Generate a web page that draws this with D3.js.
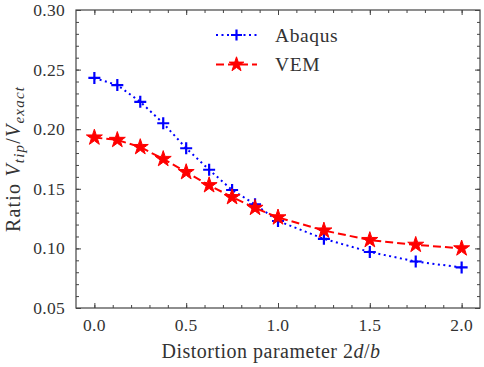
<!DOCTYPE html>
<html>
<head>
<meta charset="utf-8">
<script src="https://cdn.jsdelivr.net/npm/d3@7"></script>
<style>
  body { margin: 0; background: #fff; }
  text { font-family: "Liberation Serif", "DejaVu Serif", serif; fill: #333; }
</style>
</head>
<body>
<div id="chart"></div>
<script>
// Distortion parameter 2d/b
const distortion = [0, 0.125, 0.25, 0.375, 0.5, 0.625, 0.75, 0.875, 1.0, 1.25, 1.5, 1.75, 2.0];
// Ratio V_tip / V_exact
const abaqus = [0.243, 0.237, 0.223, 0.205, 0.184, 0.166, 0.149, 0.137, 0.123, 0.108, 0.097, 0.089, 0.084];
const vem = [0.193, 0.191, 0.185, 0.175, 0.164, 0.153, 0.143, 0.134, 0.126, 0.115, 0.107, 0.103, 0.100];
const xTicks = [0.0, 0.5, 1.0, 1.5, 2.0];
const yTicks = [0.05, 0.10, 0.15, 0.20, 0.25, 0.30];

const width = 484, height = 367;
const margin = { left: 76, right: 4, top: 10, bottom: 59 };
const axisColor = "#444";

const svg = d3.select("#chart").append("svg")
    .attr("width", width)
    .attr("height", height);

const x = d3.scaleLinear().domain([-0.1, 2.1]).range([margin.left, width - margin.right]);
const y = d3.scaleLinear().domain([0.05, 0.30]).range([height - margin.bottom, margin.top]);

// inward ticks on all four sides, like matplotlib "science" style
function tickAxes(axisGen, transform, major, minor) {
    const g = svg.append("g").attr("transform", transform);
    g.call(axisGen.tickValues(minor).tickSize(3).tickFormat(""));
    g.selectAll(".domain").remove();
    const g2 = svg.append("g").attr("transform", transform);
    g2.call(axisGen.tickValues(major).tickSize(5));
    g2.selectAll(".domain").remove();
    g2.selectAll("text").remove();
    svg.selectAll("line").attr("stroke", axisColor);
}

const xMinor = d3.range(0, 21).map(i => i / 10);
const yMinor = d3.range(5, 31).map(i => i / 100);

tickAxes(d3.axisTop(x), `translate(0,${y.range()[0]})`, xTicks, xMinor);
tickAxes(d3.axisBottom(x), `translate(0,${y.range()[1]})`, xTicks, xMinor);
tickAxes(d3.axisRight(y), `translate(${x.range()[0]},0)`, yTicks, yMinor);
tickAxes(d3.axisLeft(y), `translate(${x.range()[1]},0)`, yTicks, yMinor);

// tick labels
svg.append("g").selectAll("text").data(xTicks).join("text")
    .attr("x", d => x(d))
    .attr("y", y.range()[0] + 23)
    .attr("text-anchor", "middle")
    .style("font-size", "17.5px")
    .style("letter-spacing", "0.3px")
    .text(d => d.toFixed(1));

svg.append("g").selectAll("text").data(yTicks).join("text")
    .attr("x", x.range()[0] - 11)
    .attr("y", d => y(d) + 6)
    .attr("text-anchor", "end")
    .style("font-size", "17.5px")
    .style("letter-spacing", "0.3px")
    .text(d => d.toFixed(2));

// frame
svg.append("rect")
    .attr("x", x.range()[0])
    .attr("y", y.range()[1])
    .attr("width", x.range()[1] - x.range()[0])
    .attr("height", y.range()[0] - y.range()[1])
    .attr("fill", "none")
    .attr("stroke", axisColor)
    .attr("stroke-width", 1.2);

// axis titles
const xt = svg.append("text")
    .attr("x", (x.range()[0] + x.range()[1]) / 2 - 7)
    .attr("y", 358)
    .attr("text-anchor", "middle")
    .style("font-size", "20px")
    .style("letter-spacing", "0.5px");
xt.append("tspan").text("Distortion parameter 2");
xt.append("tspan").style("font-style", "italic").text("d");
xt.append("tspan").text("/");
xt.append("tspan").style("font-style", "italic").text("b");

const yt = svg.append("text")
    .attr("transform", `translate(20,${(y.range()[0] + y.range()[1]) / 2}) rotate(-90)`)
    .attr("text-anchor", "middle")
    .style("font-size", "20px")
    .style("letter-spacing", "1.2px");
yt.append("tspan").text("Ratio ");
yt.append("tspan").style("font-style", "italic").text("V");
yt.append("tspan").style("font-style", "italic").style("font-size", "15px").attr("dy", 4).text("tip");
yt.append("tspan").attr("dy", -4).text("/");
yt.append("tspan").style("font-style", "italic").text("V");
yt.append("tspan").style("font-style", "italic").style("font-size", "15px").attr("dy", 4).text("exact");

// series
const series = [
    { name: "Abaqus", values: abaqus, color: "#0000ff", dash: "2,3.5", marker: "plus" },
    { name: "VEM", values: vem, color: "#ff0000", dash: "8,4", marker: "star" }
];

const line = d3.line().x(d => x(d[0])).y(d => y(d[1]));

function drawMarker(g, s, cx, cy, size) {
    if (s.marker === "plus") {
        const h = size / 2;
        g.append("path")
            .attr("d", `M${cx - h},${cy}H${cx + h}M${cx},${cy - h}V${cy + h}`)
            .attr("stroke", s.color)
            .attr("stroke-width", 2.2);
    } else {
        g.append("path")
            .attr("transform", `translate(${cx},${cy})`)
            .attr("d", d3.symbol().type(d3.symbolStar).size(size * size * 0.55)())
            .attr("fill", s.color)
            .attr("stroke", s.color)
            .attr("stroke-width", 1);
    }
}

series.forEach(s => {
    const pts = distortion.map((d, i) => [d, s.values[i]]);
    svg.append("path")
        .datum(pts)
        .attr("d", line)
        .attr("fill", "none")
        .attr("stroke", s.color)
        .attr("stroke-width", 2)
        .attr("stroke-dasharray", s.dash);
    const g = svg.append("g");
    pts.forEach(p => drawMarker(g, s, x(p[0]), y(p[1]), 12));
});

// legend
const legend = svg.append("g");
series.forEach((s, i) => {
    const ly = 35 + i * 29.5;
    legend.append("line")
        .attr("x1", 216).attr("x2", 257)
        .attr("y1", ly).attr("y2", ly)
        .attr("stroke", s.color)
        .attr("stroke-width", 2)
        .attr("stroke-dasharray", s.dash);
    drawMarker(legend, s, 236.5, ly, 11);
    legend.append("text")
        .attr("x", 275)
        .attr("y", ly + 6.5)
        .style("font-size", "19.5px")
        .style("letter-spacing", "0.6px")
        .text(s.name);
});
</script>
</body>
</html>
